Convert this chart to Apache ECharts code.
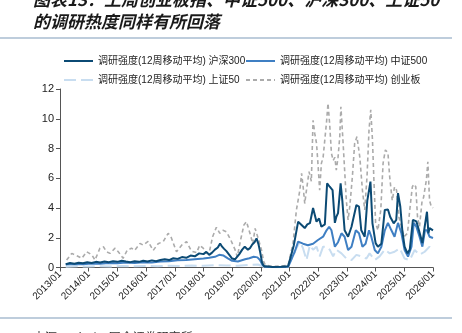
<!DOCTYPE html>
<html><head><meta charset="utf-8">
<script src="https://cdn.jsdelivr.net/npm/echarts@6/dist/echarts.min.js"></script>
<style>html,body{margin:0;padding:0;background:#fff}#c{width:462px;height:333px}</style>
</head><body><div id="c"></div>
<script>
const yearTicks = ['2013/01','2014/01','2015/01','2016/01','2017/01','2018/01','2019/01','2020/01','2021/01','2022/01','2023/01','2024/01','2025/01','2026/01'];
const seriesNames = ['调研强度(12周移动平均) 沪深300','调研强度(12周移动平均) 中证500','调研强度(12周移动平均) 上证50','调研强度(12周移动平均) 创业板'];

// 沪深300 (time in decimal years, value)
const tHS300 = [2013.2,2013.35,2013.5,2013.65,2013.8,2013.95,2014.1,2014.25,2014.4,2014.55,2014.7,2014.85,2015.0,2015.15,2015.3,2015.45,2015.6,2015.75,2015.9,2016.05,2016.2,2016.35,2016.5,2016.65,2016.8,2016.95,2017.1,2017.25,2017.4,2017.55,2017.7,2017.85,2018.0,2018.1,2018.2,2018.3,2018.4,2018.5,2018.58,2018.65,2018.72,2018.8,2018.9,2019.0,2019.1,2019.15,2019.25,2019.35,2019.44,2019.55,2019.62,2019.7,2019.78,2019.85,2019.92,2019.98,2020.04,2020.1,2020.15,2020.4,2020.7,2020.95,
2021.01,2021.15,2021.3,2021.42,2021.53,2021.62,2021.71,2021.82,2021.94,2022.03,2022.11,2022.23,2022.31,2022.4,2022.5,2022.58,2022.63,2022.69,2022.78,2022.84,2022.92,2023.04,2023.16,2023.33,2023.42,2023.5,2023.62,2023.71,2023.82,2023.89,2024.0,2024.08,2024.2,2024.32,2024.43,2024.51,2024.63,2024.72,2024.78,2024.86,2024.93,2025.01,2025.11,2025.19,2025.3,2025.42,2025.51,2025.63,2025.71,2025.79,2025.84,2025.88,2025.94,2026.0];
const vHS300 = [0.22,0.3,0.25,0.32,0.28,0.35,0.3,0.38,0.33,0.4,0.36,0.42,0.38,0.45,0.4,0.36,0.42,0.38,0.45,0.4,0.48,0.42,0.5,0.55,0.5,0.62,0.58,0.7,0.65,0.8,0.75,0.95,0.9,1.05,0.85,1.0,1.2,1.35,1.62,1.4,1.25,1.1,0.85,0.6,0.55,0.5,0.9,1.2,1.4,1.2,1.3,1.55,1.7,1.96,1.55,1.0,0.35,0.1,0.05,0.04,0.05,0.08,
0.15,1.5,3.08,2.86,2.65,2.9,2.98,4.0,3.08,3.3,2.74,2.9,5.66,5.43,5.2,3.0,3.4,3.66,5.66,4.5,2.5,2.07,2.74,4.2,4.1,2.5,2.07,4.5,5.77,2.97,1.64,1.4,1.6,3.87,3.9,3.4,2.97,3.2,5.0,4.1,2.5,1.4,0.95,1.2,3.2,3.1,2.5,1.64,2.74,3.75,2.3,2.65,2.55,2.5];

// 中证500
const tZZ500 = [2013.2,2013.5,2013.8,2014.1,2014.4,2014.7,2015.0,2015.3,2015.6,2015.9,2016.2,2016.5,2016.8,2017.1,2017.4,2017.7,2018.0,2018.2,2018.4,2018.55,2018.7,2018.85,2019.0,2019.2,2019.45,2019.6,2019.75,2019.88,2019.97,2020.05,2020.14,2020.5,2020.95,
2021.01,2021.18,2021.3,2021.47,2021.64,2021.82,2021.99,2022.17,2022.29,2022.38,2022.46,2022.58,2022.69,2022.81,2022.92,2023.04,2023.16,2023.31,2023.42,2023.54,2023.65,2023.77,2023.85,2023.97,2024.08,2024.2,2024.32,2024.43,2024.55,2024.66,2024.78,2024.9,2025.01,2025.13,2025.25,2025.33,2025.42,2025.53,2025.63,2025.72,2025.79,2025.88,2026.0];
const vZZ500 = [0.2,0.24,0.22,0.27,0.25,0.3,0.28,0.33,0.3,0.35,0.33,0.4,0.42,0.48,0.5,0.56,0.6,0.65,0.72,0.85,0.8,0.62,0.45,0.4,0.55,0.62,0.72,0.68,0.5,0.2,0.05,0.03,0.05,
0.1,1.06,1.74,1.6,1.5,1.6,1.85,2.07,2.5,2.74,2.5,1.4,1.7,2.3,2.07,1.18,1.4,2.5,2.3,1.4,1.6,2.5,2.07,1.18,0.95,1.4,2.5,3.0,2.5,2.07,3.0,2.3,1.18,0.73,1.4,3.0,2.74,2.07,1.4,2.5,2.5,2.07,1.98];

// 上证50
const tSZ50 = [2013.2,2013.6,2014.0,2014.4,2014.8,2015.2,2015.6,2016.0,2016.4,2016.8,2017.2,2017.6,2018.0,2018.4,2018.8,2019.2,2019.6,2019.9,2020.1,2020.5,2020.95,
2021.01,2021.24,2021.36,2021.47,2021.59,2021.71,2021.82,2021.94,2022.05,2022.17,2022.29,2022.4,2022.52,2022.63,2022.81,2022.98,2023.16,2023.33,2023.5,2023.68,2023.79,2023.97,2024.14,2024.32,2024.49,2024.66,2024.84,2025.01,2025.19,2025.36,2025.53,2025.71,2025.88,2026.0];
const vSZ50 = [0.05,0.08,0.06,0.09,0.07,0.1,0.08,0.1,0.09,0.12,0.1,0.13,0.12,0.16,0.14,0.12,0.18,0.2,0.05,0.02,0.03,
0.05,1.29,1.74,1.3,0.5,1.5,1.2,1.4,0.75,1.4,1.4,1.2,0.75,1.2,0.95,0.6,0.5,0.85,0.75,0.6,0.95,0.5,0.75,1.2,0.95,1.06,1.29,0.6,0.5,1.18,0.85,1.06,1.4,1.2];

// 创业板
const tCYB = [2013.23,2013.41,2013.58,2013.76,2013.93,2014.11,2014.22,2014.39,2014.51,2014.62,2014.74,2014.92,2015.03,2015.2,2015.34,2015.49,2015.6,2015.79,2015.9,2016.07,2016.25,2016.42,2016.6,2016.77,2016.88,2017.06,2017.24,2017.41,2017.58,2017.76,2017.87,2017.99,2018.11,2018.2,2018.32,2018.45,2018.57,2018.68,2018.8,2018.94,2019.1,2019.18,2019.3,2019.41,2019.5,2019.62,2019.72,2019.8,2019.9,2020.02,2020.1,2020.16,2020.4,2020.7,2020.95,
2021.12,2021.24,2021.36,2021.42,2021.47,2021.53,2021.59,2021.68,2021.76,2021.82,2021.88,2021.94,2021.99,2022.05,2022.11,2022.17,2022.29,2022.34,2022.4,2022.46,2022.52,2022.58,2022.63,2022.69,2022.75,2022.79,2022.86,2022.92,2022.98,2023.04,2023.1,2023.19,2023.27,2023.35,2023.45,2023.54,2023.62,2023.7,2023.77,2023.83,2023.89,2023.94,2024.0,2024.08,2024.18,2024.26,2024.34,2024.43,2024.49,2024.58,2024.66,2024.73,2024.81,2024.9,2024.99,2025.11,2025.19,2025.28,2025.34,2025.4,2025.46,2025.53,2025.62,2025.67,2025.77,2025.82,2025.88,2025.94,2026.0];
const vCYB = [0.5,0.95,0.8,0.62,1.06,0.85,0.5,1.29,1.4,1.06,0.95,1.3,1.06,0.62,1.15,1.3,1.15,1.62,1.5,1.75,1.15,1.6,1.75,2.3,2.0,1.06,1.5,1.74,1.1,1.0,1.5,1.3,0.95,1.0,2.07,2.7,2.3,2.5,2.4,1.9,1.2,0.73,1.9,2.86,3.08,2.3,1.6,2.63,2.0,1.2,0.4,0.15,0.08,0.1,0.15,
1.6,3.87,5.2,6.33,5.5,4.3,5.2,6.44,5.8,9.9,9.0,8.35,7.0,5.2,7.0,7.4,9.8,11.04,9.6,7.68,7.2,7.4,6.55,7.4,8.8,10.8,8.6,6.55,4.5,3.2,4.1,6.1,8.35,8.8,7.4,5.2,3.87,6.1,9.24,10.6,8.6,5.9,3.0,2.5,3.87,7.0,7.9,7.7,6.1,4.5,5.43,5.2,3.4,2.74,2.07,2.3,3.87,5.43,5.6,5.43,3.4,2.74,4.5,4.7,5.9,7.1,4.5,4.1,4.0];

const zip = (t, v) => t.map((x, i) => [x, v[i]]);
const FONT = 'Liberation Sans, Arial, Noto Sans CJK SC, sans-serif';
const colors = ['#0b4a74', '#3f7fc3', '#c8ddf0', '#ababab'];

const chart = echarts.init(document.getElementById('c'));
const mkLegend = (name, left, top) => ({
  data: [name], left: left, top: top, orient: 'horizontal',
  itemWidth: 29, itemHeight: 10, itemGap: 0, padding: 0,
  itemStyle: { opacity: 0 },
  textStyle: { fontSize: 10, color: '#222', fontFamily: FONT }
});
chart.setOption({
  animation: false,
  color: colors,
  legend: [
    mkLegend(seriesNames[0], 63, 56),
    mkLegend(seriesNames[1], 245, 56),
    mkLegend(seriesNames[2], 63, 75),
    mkLegend(seriesNames[3], 245, 75)
  ],
  grid: { left: 60, right: 29, top: 89, bottom: 65.5, outerBoundsMode: 'none' },
  xAxis: {
    type: 'value', min: 2013, max: 2026, interval: 1,
    axisLine: { lineStyle: { color: '#555', width: 1 } },
    axisTick: { show: true, length: 4, lineStyle: { color: '#555' } },
    splitLine: { show: false },
    axisLabel: { rotate: 45, fontSize: 10, color: '#222', fontFamily: FONT, margin: 5,
      formatter: v => yearTicks[Math.round(v - 2013)] }
  },
  yAxis: {
    type: 'value', min: 0, max: 12, interval: 2,
    axisLine: { show: true, lineStyle: { color: '#555', width: 1 } },
    axisTick: { show: true, length: 4, lineStyle: { color: '#555' } },
    splitLine: { show: false },
    axisLabel: { fontSize: 11, color: '#222', fontFamily: FONT, margin: 6 }
  },
  series: [
    { name: seriesNames[3], type: 'line', data: zip(tCYB, vCYB), showSymbol: false, symbol: 'none', z: 1,
      lineStyle: { color: colors[3], width: 1.6, type: [4, 3] }, itemStyle: { color: colors[3] } },
    { name: seriesNames[2], type: 'line', data: zip(tSZ50, vSZ50), showSymbol: false, symbol: 'none', z: 2,
      lineStyle: { color: colors[2], width: 2, type: [12, 5] }, itemStyle: { color: colors[2] } },
    { name: seriesNames[1], type: 'line', data: zip(tZZ500, vZZ500), showSymbol: false, symbol: 'none', z: 3,
      lineStyle: { color: colors[1], width: 2 }, itemStyle: { color: colors[1] } },
    { name: seriesNames[0], type: 'line', data: zip(tHS300, vHS300), showSymbol: false, symbol: 'none', z: 4,
      lineStyle: { color: colors[0], width: 2 }, itemStyle: { color: colors[0] } }
  ],
  graphic: [
    { type: 'text', left: 33, top: -9, style: { text: '图表13：上周创业板指、中证500、沪深300、上证50', font: 'italic bold 17px "Noto Sans CJK SC", sans-serif', fill: '#1a1a1a' } },
    { type: 'text', left: 33, top: 13, style: { text: '的调研热度同样有所回落', font: 'italic bold 17px "Noto Sans CJK SC", sans-serif', fill: '#1a1a1a' } },
    { type: 'line', shape: { x1: 0, y1: 38, x2: 452, y2: 38 }, style: { stroke: '#a9bdd1', lineWidth: 1.5 } },
    { type: 'line', shape: { x1: 0, y1: 318, x2: 452, y2: 318 }, style: { stroke: '#a9bdd1', lineWidth: 1.5 } },
    { type: 'text', left: 33, top: 331, style: { text: '来源：wind，国金证券研究所', font: '12px "Noto Sans CJK SC", sans-serif', fill: '#333' } }
  ]
});
</script></body></html>
